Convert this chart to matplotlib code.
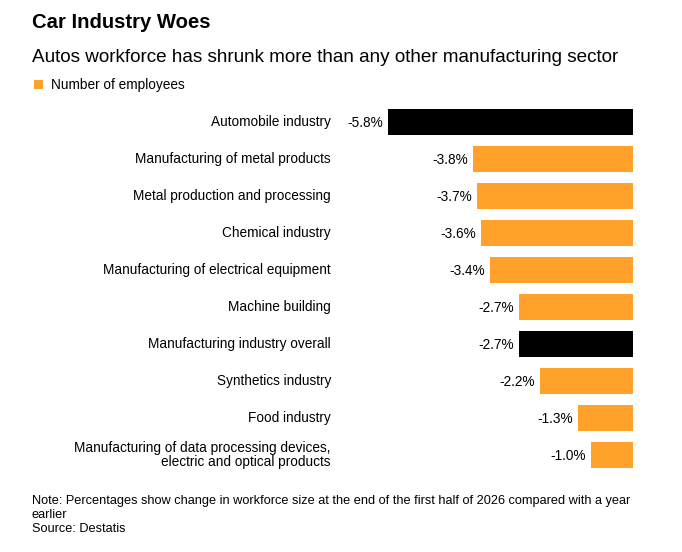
import matplotlib
matplotlib.use('Agg')
import matplotlib.pyplot as plt
from matplotlib.patches import Rectangle

# --- dados ---
categorias = [
    "Automobile industry",
    "Manufacturing of metal products",
    "Metal production and processing",
    "Chemical industry",
    "Manufacturing of electrical equipment",
    "Machine building",
    "Manufacturing industry overall",
    "Synthetics industry",
    "Food industry",
    "Manufacturing of data processing devices,\nelectric and optical products",
]
valores = [-5.8, -3.8, -3.7, -3.6, -3.4, -2.7, -2.7, -2.2, -1.3, -1.0]
destaque = [True, False, False, False, False, False, True, False, False, False]

LARANJA = '#FFA12B'
PRETO = '#000000'
W, H = 682, 552

plt.rcParams['font.family'] = ['Liberation Sans', 'DejaVu Sans']

fig = plt.figure(figsize=(W / 100, H / 100), dpi=100)

def px(x, y):
    return x / W, 1 - y / H

# eixo: 340..633 px em x, 103.5..473.5 px em y
x0, x1 = 340, 633
y0, y1 = 103.5, 473.5
ax = fig.add_axes([x0 / W, 1 - y1 / H, (x1 - x0) / W, (y1 - y0) / H])
escala = 42.2  # px por ponto percentual
ax.set_xlim(-(x1 - x0) / escala, 0)
ax.set_ylim(len(valores) - 0.5, -0.5)

pos = list(range(len(valores)))
cores = [PRETO if d else LARANJA for d in destaque]
ax.barh(pos, valores, height=0.70, color=cores, align='center')

for i, v in enumerate(valores):
    ax.annotate(f"{v:.1f}%", xy=(v, i), xytext=(-3.5, 0.5), textcoords='offset points',
                ha='right', va='center_baseline', fontsize=9.8, color='#000000')

ax.set_yticks(pos)
ax.set_yticklabels(categorias, fontsize=9.85, linespacing=1.0)
ax.tick_params(axis='y', length=0, pad=6.5)
for lab in ax.get_yticklabels():
    lab.set_va('center')
ax.set_xticks([])
for s in ax.spines.values():
    s.set_visible(False)

# titulos
fig.text(*px(32, 23), "Car Industry Woes", fontsize=14.6, fontweight='bold', va='center', ha='left')
fig.text(*px(32, 58), "Autos workforce has shrunk more than any other manufacturing sector",
         fontsize=13.6, va='center', ha='left')

# legenda
fig.patches.append(Rectangle(px(34, 89), 9 / W, 9 / H, transform=fig.transFigure,
                             facecolor=LARANJA, edgecolor='none'))
fig.text(*px(51, 85), "Number of employees", fontsize=9.85, va='center', ha='left')

# notas
fig.text(*px(32, 501), "Note: Percentages show change in workforce size at the end of the first half of 2026 compared with a year",
         fontsize=9.2, va='center', ha='left')
fig.text(*px(32, 515), "earlier", fontsize=9.2, va='center', ha='left')
fig.text(*px(32, 529), "Source: Destatis", fontsize=9.2, va='center', ha='left')

fig.savefig('out.png', dpi=100, facecolor='white')
